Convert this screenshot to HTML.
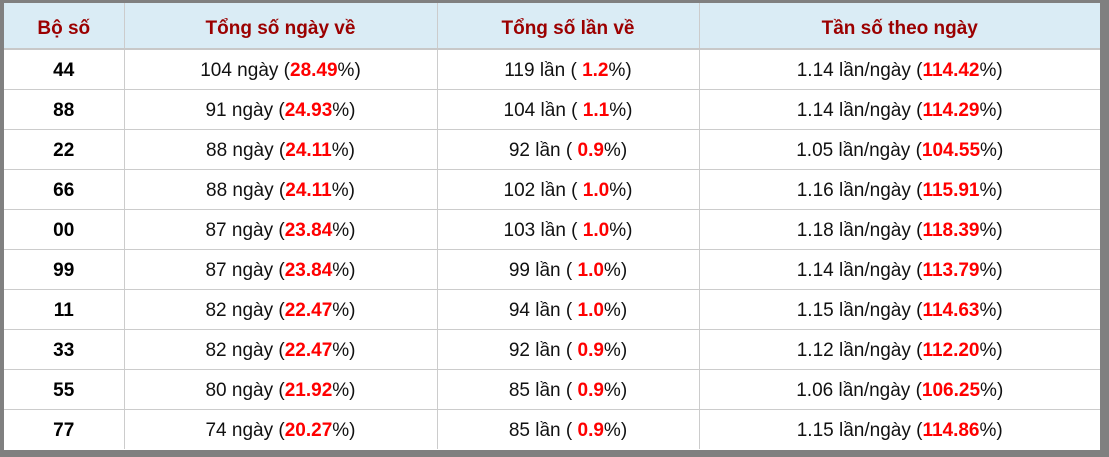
<!DOCTYPE html>
<html><head><style>
body{margin:0;background:#808080;width:1109px;height:457px;overflow:hidden}
.w{position:absolute;left:4px;top:3px;width:1096px;height:447px;background:#fff}
table{border-collapse:collapse;width:1096px;font-family:"Liberation Sans",sans-serif;font-size:19px;table-layout:fixed}
th{background:#daecf5;color:#9b0000;height:39px;padding:6px 0 0 0;font-weight:bold;border-right:1px solid #ccc;border-bottom:2px solid #c8c8c8}
td{height:36px;padding:3px 0 0 0;border-right:1px solid #ccc;border-bottom:1px solid #ccc;text-align:center;color:#111}
tr:last-child td{border-bottom:none}
th:last-child,td:last-child{border-right:none}
td:first-child{font-weight:bold;color:#000}
b{color:#f00}
</style></head><body><div class="w"><table>
<colgroup><col style="width:120px"><col style="width:313px"><col style="width:262px"><col></colgroup>
<tr><th>Bộ số</th><th>Tổng số ngày về</th><th>Tổng số lần về</th><th>Tần số theo ngày</th></tr>
<tr><td>44</td><td>104 ngày (<b>28.49</b>%)</td><td>119 lần ( <b>1.2</b>%)</td><td>1.14 lần/ngày (<b>114.42</b>%)</td></tr>
<tr><td>88</td><td>91 ngày (<b>24.93</b>%)</td><td>104 lần ( <b>1.1</b>%)</td><td>1.14 lần/ngày (<b>114.29</b>%)</td></tr>
<tr><td>22</td><td>88 ngày (<b>24.11</b>%)</td><td>92 lần ( <b>0.9</b>%)</td><td>1.05 lần/ngày (<b>104.55</b>%)</td></tr>
<tr><td>66</td><td>88 ngày (<b>24.11</b>%)</td><td>102 lần ( <b>1.0</b>%)</td><td>1.16 lần/ngày (<b>115.91</b>%)</td></tr>
<tr><td>00</td><td>87 ngày (<b>23.84</b>%)</td><td>103 lần ( <b>1.0</b>%)</td><td>1.18 lần/ngày (<b>118.39</b>%)</td></tr>
<tr><td>99</td><td>87 ngày (<b>23.84</b>%)</td><td>99 lần ( <b>1.0</b>%)</td><td>1.14 lần/ngày (<b>113.79</b>%)</td></tr>
<tr><td>11</td><td>82 ngày (<b>22.47</b>%)</td><td>94 lần ( <b>1.0</b>%)</td><td>1.15 lần/ngày (<b>114.63</b>%)</td></tr>
<tr><td>33</td><td>82 ngày (<b>22.47</b>%)</td><td>92 lần ( <b>0.9</b>%)</td><td>1.12 lần/ngày (<b>112.20</b>%)</td></tr>
<tr><td>55</td><td>80 ngày (<b>21.92</b>%)</td><td>85 lần ( <b>0.9</b>%)</td><td>1.06 lần/ngày (<b>106.25</b>%)</td></tr>
<tr><td>77</td><td>74 ngày (<b>20.27</b>%)</td><td>85 lần ( <b>0.9</b>%)</td><td>1.15 lần/ngày (<b>114.86</b>%)</td></tr>
</table></div></body></html>
